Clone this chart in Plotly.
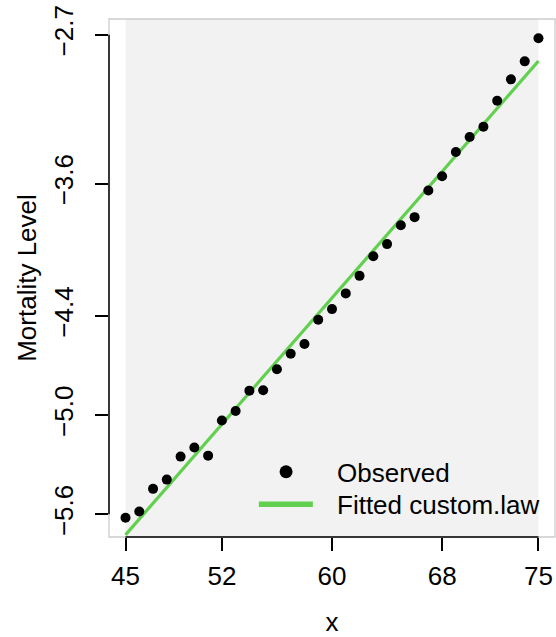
import plotly.graph_objects as go

# ---- data ----
ages = list(range(45, 76))
observed = [-5.621, -5.583, -5.446, -5.390, -5.251, -5.196, -5.245, -5.033, -4.975, -4.852,
            -4.850, -4.723, -4.629, -4.570, -4.423, -4.359, -4.264, -4.158, -4.039, -3.966,
            -3.852, -3.803, -3.642, -3.556, -3.409, -3.318, -3.256, -3.099, -2.970, -2.861,
            -2.721]
fit_x = [45, 60, 75]
fit_y = [-5.724, -4.290, -2.859]

x_ticks = [45, 52, 60, 68, 75]
y_ticks = [-5.6, -5.0, -4.4, -3.6, -2.7]
y_tick_text = ["\u22125.6", "\u22125.0", "\u22124.4", "\u22123.6", "\u22122.7"]

legend_labels = ["Observed", "Fitted custom.law"]
green = "#61D04F"
FONT = "Liberation Sans, Arial, Helvetica, sans-serif"
FS = 26

x_range = [43.8, 76.2]
y_range = [-5.737, -2.605]

fig = go.Figure()
fig.add_trace(go.Scatter(x=fit_x, y=fit_y, mode="lines", name=legend_labels[1],
                         line=dict(color=green, width=3.2), showlegend=False))
fig.add_trace(go.Scatter(x=ages, y=observed, mode="markers", name=legend_labels[0],
                         marker=dict(color="black", size=10, line=dict(width=0)),
                         showlegend=False))

shapes = [
    # grey panel over the age span
    dict(type="rect", xref="x", yref="paper", x0=ages[0], x1=ages[-1], y0=0, y1=1,
         fillcolor="#F2F2F2", line=dict(width=0), layer="below"),
    # light box
    dict(type="rect", xref="paper", yref="paper", x0=0, x1=1, y0=0, y1=1,
         line=dict(color="#CCCCCC", width=1.3), layer="above"),
    # R style axis lines from first to last tick
    dict(type="line", xref="x", yref="paper", x0=x_ticks[0], x1=x_ticks[-1], y0=0, y1=0,
         line=dict(color="black", width=1.5), layer="above"),
    dict(type="line", xref="paper", yref="y", x0=0, x1=0, y0=y_ticks[0], y1=y_ticks[-1],
         line=dict(color="black", width=1.5), layer="above"),
    # legend symbols
    dict(type="circle", xref="paper", yref="paper", xsizemode="pixel", ysizemode="pixel",
         xanchor=0.397, yanchor=0.126, x0=-6.5, x1=6.5, y0=-6.5, y1=6.5,
         fillcolor="black", line=dict(width=0), layer="above"),
    dict(type="line", xref="paper", yref="paper", x0=0.336, x1=0.457, y0=0.0631, y1=0.0631,
         line=dict(color=green, width=5.5), layer="above"),
]

annotations = [
    dict(text=legend_labels[0], xref="paper", yref="paper", x=0.507, y=0.124,
         xanchor="left", yanchor="middle", showarrow=False,
         font=dict(family=FONT, size=FS, color="black")),
    dict(text=legend_labels[1], xref="paper", yref="paper", x=0.507, y=0.0618,
         xanchor="left", yanchor="middle", showarrow=False,
         font=dict(family=FONT, size=FS, color="black")),
]

fig.update_layout(
    width=556, height=637,
    margin=dict(l=109, r=1, t=19, b=100, autoexpand=False),
    paper_bgcolor="white", plot_bgcolor="white",
    font=dict(family=FONT, size=FS, color="black"),
    shapes=shapes, annotations=annotations,
    showlegend=False,
    xaxis=dict(range=x_range, tickmode="array", tickvals=x_ticks,
               ticktext=[str(v) for v in x_ticks], automargin=False,
               ticks="outside", ticklen=13, tickwidth=1.5, tickcolor="black",
               ticklabelstandoff=3,
               showgrid=False, zeroline=False, showline=False,
               tickfont=dict(family=FONT, size=FS),
               title=dict(text="x", font=dict(family=FONT, size=FS), standoff=38)),
    yaxis=dict(range=y_range, tickmode="array", tickvals=y_ticks, ticktext=y_tick_text,
               automargin=False,
               ticks="outside", ticklen=13, tickwidth=1.5, tickcolor="black",
               tickangle=-90, ticklabelstandoff=12,
               showgrid=False, zeroline=False, showline=False,
               tickfont=dict(family=FONT, size=FS),
               title=dict(text="Mortality Level", font=dict(family=FONT, size=FS), standoff=4)),
)

fig.write_html("out.html", config={"displayModeBar": False},
               post_script=["document.body.style.margin='0';document.body.style.overflow='hidden';"])
